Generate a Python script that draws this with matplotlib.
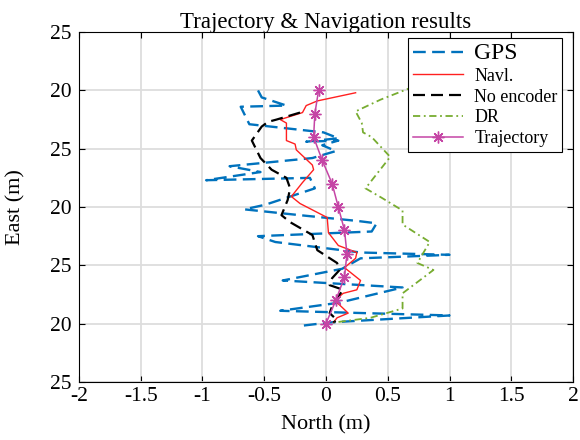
import matplotlib
matplotlib.use("Agg")
import matplotlib.pyplot as plt

plt.rcParams['font.family'] = ['Liberation Serif', 'DejaVu Serif']

# North (m) / East (m) readings for each trace
gps_n = [-0.55, -0.52, -0.32, -0.69, -0.62, -0.02, 0.10, -0.16, 0.10, -0.03, 0.08, -0.11,
         -0.78, -0.53, -0.97, -0.13, -0.09, -0.49, -0.66, -0.21, 0.26, 0.41, 0.37, -0.55,
         -0.41, 0.28, 1.00, 0.28, 0.13, -0.35, 0.62, 0.11, -0.37, 1.00, 0.03, -0.21]
gps_e = [25.0, 24.4, 23.7, 23.6, 22.1, 21.4, 20.9, 20.6, 20.7, 20.3, 19.8, 19.2,
         18.5, 18.0, 17.3, 17.5, 16.6, 15.2, 14.8, 14.3, 13.8, 13.6, 12.9, 12.5,
         12.0, 11.1, 10.9, 10.6, 9.7, 8.7, 8.1, 6.8, 6.1, 5.7, 5.1, 4.8]

navl_n = [0.24, -0.07, -0.16, -0.19, -0.37, -0.32, -0.32, -0.25, -0.24, -0.11, -0.10, -0.19,
          -0.28, -0.21, 0.01, 0.02, 0.10, 0.25, 0.24, 0.15, 0.28, 0.25, 0.14, 0.07,
          0.11, 0.18, 0.09, 0.06]
navl_e = [24.8, 24.1, 23.7, 23.1, 22.5, 22.2, 20.7, 20.4, 19.9, 18.6, 18.2, 17.1,
          15.9, 15.3, 14.1, 12.8, 11.7, 11.1, 10.6, 9.8, 8.7, 7.9, 7.6, 7.0,
          6.6, 5.9, 5.5, 5.1]

noenc_n = [-0.21, -0.40, -0.47, -0.52, -0.60, -0.53, -0.44, -0.32, -0.29, -0.31, -0.36, -0.29,
           -0.11, -0.07, 0.09, 0.11, 0.05, 0.03, 0.14, 0.06, 0.03, 0.09, 0.06]
noenc_e = [23.1, 22.5, 22.3, 21.9, 20.7, 19.2, 18.2, 17.5, 16.6, 15.6, 14.3, 13.7,
           12.6, 11.3, 10.2, 9.6, 8.9, 8.3, 7.9, 6.8, 5.9, 5.3, 5.1]

dr_n = [0.84, 0.68, 0.44, 0.24, 0.29, 0.30, 0.37, 0.52, 0.32, 0.45, 0.62, 0.62,
        0.84, 0.74, 0.87, 0.62, 0.62, 0.36, 0.07]
dr_e = [25.5, 25.2, 24.2, 23.2, 22.2, 21.4, 21.0, 19.3, 16.6, 15.8, 14.7, 13.5,
        12.0, 10.2, 9.6, 7.6, 6.3, 5.5, 5.1]

traj_n = [-0.06, -0.09, -0.10, -0.03, 0.05, 0.10, 0.15, 0.17, 0.15, 0.08, 0.00]
traj_e = [25, 23, 21, 19, 17, 15, 13, 11, 9, 7, 5]

x_ticks = [-2, -1.5, -1, -0.5, 0, 0.5, 1, 1.5, 2]
x_labels = ['-2', '-1.5', '-1', '-0.5', '0', '0.5', '1', '1.5', '2']
y_ticks = [0, 5, 10, 15, 20, 25, 30]
y_labels = ['25', '20', '25', '20', '25', '20', '25']

fig = plt.figure(figsize=(5.8, 4.4), dpi=100)
ax = fig.add_axes([0.136, 0.132, 0.852, 0.795])

ax.plot(gps_n, gps_e, color='#0072BD', lw=1.7, linestyle=(0, (5.4, 2.7)), label='GPS')
ax.plot(navl_n, navl_e, color='#FF2020', lw=1.0, label='Navl.')
ax.plot(noenc_n, noenc_e, color='black', lw=1.6, linestyle=(0, (5.4, 2.7)), label='No encoder')
ax.plot(dr_n, dr_e, color='#77AC30', lw=1.3, linestyle=(0, (4, 2, 1, 2)), label='DR')
ax.plot(traj_n, traj_e, color='#C545A5', lw=1.1, marker=(8, 2, 0), markersize=8.5,
        markeredgewidth=1.0, label='Trajectory')

ax.set_xlim(-2, 2)
ax.set_ylim(0, 30)
ax.set_xticks(x_ticks)
ax.set_xticklabels(x_labels)
ax.set_yticks(y_ticks)
ax.set_yticklabels(y_labels)
ax.tick_params(direction='in', top=True, right=True, labelsize=15.5, length=4, width=0.8)
ax.tick_params(axis='y', pad=5)
ax.grid(True, color='#DDDDDD', lw=1.3)
ax.set_axisbelow(True)
for s in ax.spines.values():
    s.set_linewidth(0.8)

ax.set_title('Trajectory & Navigation results', fontsize=16.5, pad=3)
ax.set_xlabel('North (m)', fontsize=16, labelpad=7)
ax.set_ylabel('East (m)', fontsize=16, labelpad=18)

leg = ax.legend(loc='upper right', bbox_to_anchor=(0.978, 0.983), borderaxespad=0,
                fontsize=13, handlelength=2.8, labelspacing=0.22, borderpad=0.25,
                fancybox=False, framealpha=1, edgecolor='black', handletextpad=0.6)
leg.get_frame().set_linewidth(0.8)
leg.get_texts()[0].set_fontsize(17)

fig.savefig('out.png', dpi=100)
